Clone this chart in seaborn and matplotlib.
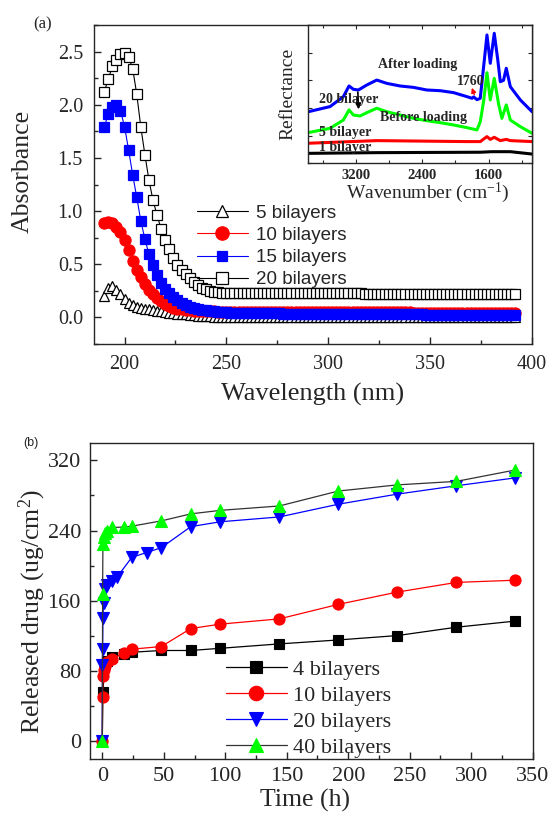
import numpy as np
import matplotlib
matplotlib.use("Agg")
import matplotlib.pyplot as plt
import seaborn as sns
from matplotlib.ticker import MultipleLocator, NullFormatter

sns.set_style("ticks")
plt.rcParams['font.family'] = ['Liberation Serif', 'DejaVu Serif']
plt.rcParams['axes.linewidth'] = 1.0

# ---------------- Panel (a) data ----------------
wavelength = list(range(190, 394, 2))

abs_5 = [0.20, 0.28, 0.30, 0.26, 0.22, 0.175, 0.14, 0.115, 0.10, 0.09,
         0.082, 0.075, 0.068, 0.062, 0.056, 0.05, 0.045, 0.04, 0.036, 0.032,
         0.028, 0.024, 0.02, 0.017, 0.014, 0.012, 0.01, 0.008, 0.007, 0.006,
         0.005,
         0.005, 0.004, 0.004, 0.004, 0.004, 0.004, 0.003, 0.003, 0.003, 0.003,
         0.003, 0.003, 0.003, 0.003, 0.003, 0.003, 0.003, 0.003, 0.003, 0.003,
         0.003, 0.003, 0.003, 0.003, 0.002, 0.002, 0.002, 0.002, 0.002, 0.002,
         0.002, 0.002, 0.002, 0.002, 0.002, 0.002, 0.002, 0.002, 0.002, 0.002,
         0.002, 0.002, 0.002, 0.002, 0.002, 0.002, 0.002, 0.002, 0.002, 0.002,
         0.002, 0.002, 0.002, 0.002, 0.002, 0.002, 0.002, 0.002, 0.002, 0.002,
         0.002, 0.002, 0.002, 0.002, 0.002, 0.002, 0.002, 0.002, 0.002, 0.002,
         0.002]

abs_10 = [0.887, 0.902, 0.887, 0.85, 0.80, 0.73, 0.63, 0.535, 0.45, 0.38,
          0.315, 0.26, 0.22, 0.18, 0.15, 0.125, 0.105, 0.093, 0.083, 0.077,
          0.07, 0.067, 0.064, 0.062, 0.06, 0.058, 0.057, 0.056, 0.055, 0.055,
          0.054,
          0.054, 0.054, 0.053, 0.053, 0.053, 0.052, 0.052, 0.052, 0.052, 0.051,
          0.051, 0.051, 0.051, 0.051, 0.050, 0.050, 0.050, 0.050, 0.050, 0.050,
          0.050, 0.049, 0.049, 0.049, 0.049, 0.049, 0.049, 0.049, 0.048, 0.048,
          0.048, 0.048, 0.048, 0.048, 0.048, 0.048, 0.047, 0.047, 0.047, 0.047,
          0.047, 0.047, 0.047, 0.047, 0.047, 0.046, 0.046, 0.046, 0.046, 0.046,
          0.046, 0.046, 0.046, 0.046, 0.046, 0.046, 0.045, 0.045, 0.045, 0.045,
          0.045, 0.045, 0.045, 0.045, 0.045, 0.045, 0.045, 0.045, 0.045, 0.045,
          0.045]

abs_15 = [1.79, 1.91, 1.98, 2.00, 1.945, 1.795, 1.575, 1.34, 1.13, 0.907,
          0.737, 0.595, 0.49, 0.40, 0.325, 0.27, 0.225, 0.19, 0.16, 0.135,
          0.118, 0.10, 0.09, 0.08, 0.072, 0.066, 0.06, 0.056, 0.052, 0.05,
          0.048,
          0.046, 0.045, 0.044, 0.043, 0.042, 0.041, 0.040, 0.040, 0.039, 0.038,
          0.038, 0.037, 0.037, 0.036, 0.036, 0.035, 0.035, 0.035, 0.034, 0.034,
          0.034, 0.033, 0.033, 0.033, 0.032, 0.032, 0.032, 0.032, 0.031, 0.031,
          0.031, 0.031, 0.030, 0.030, 0.030, 0.030, 0.030, 0.029, 0.029, 0.029,
          0.029, 0.029, 0.028, 0.028, 0.028, 0.028, 0.028, 0.028, 0.027, 0.027,
          0.027, 0.027, 0.027, 0.027, 0.026, 0.026, 0.026, 0.026, 0.026, 0.026,
          0.026, 0.025, 0.025, 0.025, 0.025, 0.025, 0.025, 0.025, 0.025, 0.025,
          0.025]

abs_20 = [2.12, 2.24, 2.36, 2.42, 2.48, 2.49, 2.45, 2.34, 2.10, 1.79,
          1.53, 1.29, 1.10, 0.96, 0.83, 0.73, 0.64, 0.56, 0.49, 0.445,
          0.41, 0.37, 0.335, 0.305, 0.28, 0.263, 0.25, 0.243, 0.238, 0.234,
          0.232,
          0.231, 0.230, 0.230, 0.229, 0.229, 0.229, 0.228, 0.228, 0.228, 0.228,
          0.227, 0.227, 0.227, 0.227, 0.227, 0.226, 0.226, 0.226, 0.226, 0.226,
          0.226, 0.226, 0.225, 0.225, 0.225, 0.225, 0.225, 0.225, 0.225, 0.225,
          0.225, 0.225, 0.225, 0.224, 0.224, 0.224, 0.224, 0.224, 0.224, 0.224,
          0.224, 0.224, 0.224, 0.224, 0.224, 0.224, 0.224, 0.224, 0.224, 0.224,
          0.224, 0.224, 0.224, 0.224, 0.224, 0.224, 0.224, 0.224, 0.224, 0.224,
          0.224, 0.224, 0.224, 0.224, 0.224, 0.224, 0.224, 0.224, 0.224, 0.224,
          0.224]

labels_a = ["5 bilayers", "10 bilayers", "15 bilayers", "20 bilayers"]

# ---------------- Inset data ----------------
wn_after = [3776, 3514, 3353, 3285, 3232, 3172, 3071, 2950, 2829, 2668, 2507,
            2346, 2184, 2023, 1862, 1800, 1781, 1740, 1701, 1660, 1620, 1580,
            1532, 1490, 1459, 1420, 1387, 1338, 1217, 1076]
r_after = [0.373, 0.41, 0.482, 0.559, 0.535, 0.53, 0.566, 0.602, 0.578, 0.559,
           0.549, 0.53, 0.525, 0.511, 0.482, 0.47, 0.48, 0.46, 0.47, 0.70,
           0.928, 0.723, 0.94, 0.75, 0.59, 0.60, 0.687, 0.554, 0.458, 0.373]
wn_before = [3776, 3514, 3353, 3285, 3232, 3152, 3071, 2950, 2829, 2668, 2507,
             2346, 2184, 2023, 1862, 1741, 1701, 1660, 1620, 1580, 1532, 1480,
             1440, 1387, 1338, 1217, 1076]
r_before = [0.222, 0.253, 0.313, 0.386, 0.349, 0.342, 0.366, 0.398, 0.373,
            0.349, 0.325, 0.308, 0.294, 0.277, 0.258, 0.241, 0.30, 0.45, 0.655,
            0.458, 0.614, 0.43, 0.325, 0.422, 0.313, 0.265, 0.217]
wn_5 = [3776, 2950, 1862, 1701, 1620, 1580, 1532, 1459, 1387, 1338, 1076]
r_5 = [0.145, 0.164, 0.157, 0.157, 0.193, 0.173, 0.188, 0.164, 0.173, 0.164, 0.157]
wn_1 = [3776, 2950, 1701, 1560, 1338, 1076]
r_1 = [0.072, 0.077, 0.08, 0.084, 0.084, 0.067]

# ---------------- Panel (b) data ----------------
t_4 = [0, 0.5, 2, 4, 8, 18, 24, 48, 72, 96, 144, 192, 240, 288, 336]
v_4 = [0, 56, 88, 92, 96.5, 99, 101.5, 103.5, 103.5, 106, 111, 115.5, 120.5, 130, 137]
t_10 = [0, 0.25, 0.5, 1, 2, 4, 8, 18, 24, 48, 72, 96, 144, 192, 240, 288, 336]
v_10 = [0, 51, 75, 81.5, 86, 90, 94, 100.5, 105, 108, 128.5, 133.5, 139.5, 156, 170, 181, 183.5]
t_20 = [0, 0.1, 0.25, 0.5, 1, 2, 4, 8, 12, 24, 36, 48, 72, 96, 144, 192, 240, 288, 336]
v_20 = [0, 87, 105, 140, 158, 174, 178, 183, 187, 209.5, 215, 220.5, 244.5, 250, 255.5, 270, 281.5, 291, 300]
t_40 = [0, 0.25, 0.5, 1, 2, 4, 8, 18, 24, 48, 72, 96, 144, 192, 240, 288, 336]
v_40 = [0, 168, 225, 233, 237, 240, 243.5, 244, 245, 251, 259, 263, 268, 285, 292, 296, 309]
labels_b = ["4 bilayers", "10 bilayers", "20 bilayers", "40 bilayers"]

W, H = 553, 814
fig = plt.figure(figsize=(W / 100, H / 100), dpi=100)


def fx(px):
    return px / W


def fy(py):
    return 1 - py / H


# ---------------- Panel (a) ----------------
axA = fig.add_axes([fx(94), fy(344), fx(531.7) - fx(94), fy(25) - fy(344)])
style_a = [
    (abs_5, '^', 'black', 'white', 'black', 7.0),
    (abs_10, 'o', '#ff0000', '#ff0000', '#ff0000', 8.0),
    (abs_15, 's', '#0000ff', '#0000ff', '#0000ff', 6.5),
    (abs_20, 's', 'black', 'white', 'black', 7.0),
]
for lab, (vals, m, lc, fc, ec, ms) in zip(labels_a, style_a):
    sns.lineplot(x=wavelength, y=vals, ax=axA, color=lc, marker=m,
                 markersize=ms, markerfacecolor=fc, markeredgecolor=ec,
                 markeredgewidth=0.9, linewidth=0.8, label=lab,
                 sort=False, estimator=None)
axA.set_xlim(185, 400)
axA.set_ylim(-0.25, 2.75)
axA.xaxis.set_major_locator(MultipleLocator(50))
axA.xaxis.set_minor_locator(MultipleLocator(25))
axA.yaxis.set_major_locator(MultipleLocator(0.5))
axA.yaxis.set_minor_locator(MultipleLocator(0.25))
axA.yaxis.set_major_formatter(matplotlib.ticker.FormatStrFormatter('%.1f'))
axA.tick_params(which='both', direction='in', width=1.0, labelsize=14.5, pad=8)
axA.tick_params(which='major', length=5)
axA.tick_params(which='minor', length=3)
axA.set_xlabel('')
axA.set_ylabel('')
axA.legend(loc='upper left', bbox_to_anchor=(0.2346, 0.437), frameon=False,
           borderpad=0, borderaxespad=0, handlelength=2.75, handletextpad=0.4,
           labelspacing=0.27, markerscale=1.2,
           prop={'family': 'Liberation Sans', 'size': 13.5})
fig.text(fx(23), fy(171.5), 'Absorbance', rotation=90, ha='center', va='center', fontsize=18.5)
fig.text(fx(312.5), fy(394), 'Wavelength (nm)', ha='center', va='center', fontsize=19)
fig.text(fx(33), fy(24), '(a)', ha='left', va='center', fontsize=12)

# ---------------- Inset ----------------
axI = fig.add_axes([fx(308), fy(163.3), fx(531.7) - fx(308), fy(25) - fy(163.3)])
inset_series = [
    (wn_1, r_1, 'black'),
    (wn_5, r_5, '#ff0000'),
    (wn_before, r_before, '#00ff00'),
    (wn_after, r_after, '#0000ff'),
]
for xs, ys, c in inset_series:
    sns.lineplot(x=xs, y=ys, ax=axI, color=c, linewidth=2.2, sort=False, estimator=None)
axI.set_xlim(3780, 1080)
axI.set_ylim(0, 1)
axI.xaxis.set_major_locator(MultipleLocator(800))
axI.xaxis.set_minor_locator(MultipleLocator(400))
axI.yaxis.set_major_locator(MultipleLocator(0.2))
axI.yaxis.set_major_formatter(NullFormatter())
axI.tick_params(which='both', direction='in', top=True, right=True, width=0.8, labelsize=10.5, pad=4)
axI.tick_params(which='major', length=3)
axI.tick_params(which='minor', length=2)
for lbl in axI.get_xticklabels():
    lbl.set_fontweight('bold')
axI.set_xlabel('')
axI.set_ylabel('')
tk = dict(fontsize=10, fontweight='bold', va='center', ha='left')
axI.text(2930, 0.711, 'After loading', **tk)
axI.text(1983, 0.59, '1760', **tk)
axI.text(3643, 0.458, '20 bilayer', **tk)
axI.text(2910, 0.333, 'Before loading', **tk)
axI.text(3643, 0.224, '5 bilayer', **tk)
axI.text(3643, 0.116, '1 bilayer', **tk)
axI.annotate('', xy=(3168, 0.37), xytext=(3180, 0.535),
             arrowprops=dict(arrowstyle='-|>', color='black', lw=1.2, mutation_scale=8))
axI.annotate('', xy=(1814, 0.565), xytext=(1761, 0.477),
             arrowprops=dict(arrowstyle='-|>', color='#ff0000', lw=1.0, mutation_scale=7))
fig.text(fx(288.3), fy(94), 'Reflectance', rotation=90, ha='center', va='center', fontsize=14)
fig.text(fx(428), fy(193), 'Wavenumber (cm$\\mathregular{^{-1}}$)', ha='center', va='center', fontsize=14)

# ---------------- Panel (b) ----------------
axB = fig.add_axes([fx(90), fy(759), fx(532.7) - fx(90), fy(442.7) - fy(759)])
style_b = [
    (t_4, v_4, 's', 'black', 'black', 7.0),
    (t_10, v_10, 'o', '#ff0000', '#ff0000', 8.0),
    (t_20, v_20, 'v', '#0000ff', '#0000ff', 8.0),
    (t_40, v_40, '^', '#333333', '#00ff00', 8.0),
]
for lab, (ts, vs, m, lc, mc, ms) in zip(labels_b, style_b):
    sns.lineplot(x=ts, y=vs, ax=axB, color=lc, marker=m, markersize=ms,
                 markerfacecolor=mc, markeredgecolor=mc, markeredgewidth=0.8,
                 linewidth=0.9, label=lab, sort=False, estimator=None)
axB.set_xlim(-10, 350)
axB.set_ylim(-20, 340)
axB.xaxis.set_major_locator(MultipleLocator(50))
axB.xaxis.set_minor_locator(MultipleLocator(25))
axB.yaxis.set_major_locator(MultipleLocator(80))
axB.yaxis.set_minor_locator(MultipleLocator(40))
axB.tick_params(which='both', direction='in', width=1.0, labelsize=16)
axB.tick_params(axis='y', pad=6.5)
axB.tick_params(axis='x', pad=5.5)
axB.tick_params(which='major', length=5)
axB.tick_params(which='minor', length=3)
axB.set_xlabel('')
axB.set_ylabel('')
axB.legend(loc='upper left', bbox_to_anchor=(0.307, 0.315), frameon=False,
           borderpad=0, borderaxespad=0, handlelength=2.75, handletextpad=0.27,
           labelspacing=0.24, markerscale=1.3,
           prop={'family': 'Liberation Serif', 'size': 16})
fig.text(fx(32), fy(611), 'Released drug (ug/cm$\\mathregular{^2}$)', rotation=90,
         ha='center', va='center', fontsize=18.5)
fig.text(fx(305), fy(800), 'Time (h)', ha='center', va='center', fontsize=18.5)
fig.text(fx(23), fy(443), '(b)', ha='left', va='center', fontsize=9, family='Liberation Sans')

fig.savefig('out.png', dpi=100)
